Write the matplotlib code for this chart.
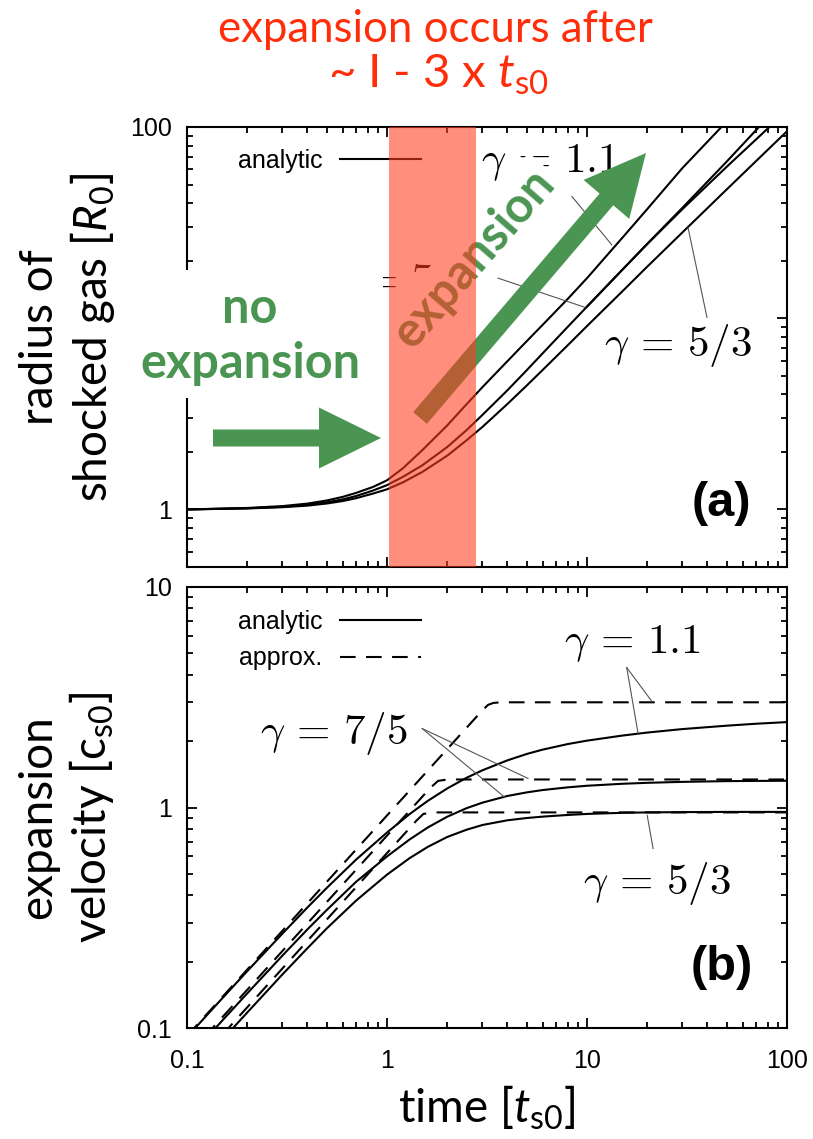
import matplotlib
matplotlib.use('Agg')
import matplotlib.pyplot as plt
from matplotlib.lines import Line2D
from matplotlib.patches import Rectangle, FancyArrow
from matplotlib.transforms import blended_transform_factory
from matplotlib.ticker import FuncFormatter, LogLocator, NullFormatter

plt.rcParams['mathtext.fontset'] = 'custom'
plt.rcParams['mathtext.rm'] = 'Lato'
plt.rcParams['mathtext.it'] = 'Lato:italic'
plt.rcParams['mathtext.bf'] = 'Lato:bold'

# ---------------- data ----------------
# panel (a): radius of shocked gas [R0] vs time [ts0]
t_R = [0.1, 0.2, 0.3, 0.4, 0.5, 0.6, 0.7, 0.85, 1, 1.2, 1.5, 2, 2.5, 3, 4, 5, 6, 8, 10, 15, 20, 30, 50]
R_11 = [1.0, 1.018, 1.041, 1.073, 1.114, 1.163, 1.22, 1.31, 1.42, 1.64, 2.04, 2.75, 3.55, 4.36,
        5.96, 7.59, 9.23, 12.6, 16.2, 26.3, 37.2, 61, 107]
t_R75 = [0.1, 0.2, 0.3, 0.4, 0.5, 0.6, 0.7, 0.85, 1, 1.2, 1.5, 2, 2.5, 3, 4, 5, 6, 8, 10, 15, 20, 30, 50, 75]
R_75 = [1.0, 1.014, 1.032, 1.057, 1.09, 1.128, 1.175, 1.255, 1.34, 1.48, 1.7, 2.12, 2.6, 3.12,
        4.2, 5.35, 6.55, 9.0, 11.5, 17.9, 24.5, 37.8, 66, 104]
t_R75b = [10, 15, 20, 30, 50, 85]
R_75b = [11.5, 17.9, 24.4, 37.2, 62, 104]
t_R53 = [0.1, 0.2, 0.3, 0.4, 0.5, 0.6, 0.7, 0.85, 1, 1.2, 1.5, 2, 2.5, 3, 4, 5, 6, 8, 10, 15, 20, 30, 50, 70, 100]
R_53 = [1.0, 1.012, 1.027, 1.047, 1.074, 1.106, 1.145, 1.21, 1.274, 1.385, 1.57, 1.91, 2.3, 2.7,
        3.56, 4.45, 5.36, 7.21, 9.1, 13.8, 18.6, 28.1, 47.2, 66.3, 95]

# panel (b): expansion velocity [cs0] vs time [ts0]
t_v = [0.1, 0.15, 0.2, 0.3, 0.4, 0.5, 0.7, 1, 1.3, 1.6, 2, 2.5, 3, 4, 5, 6, 8, 10, 15, 20, 30, 50, 70, 100]
v_11 = [0.091, 0.1363, 0.181, 0.268, 0.352, 0.432, 0.58, 0.77, 0.935, 1.072, 1.22, 1.364, 1.475,
        1.636, 1.749, 1.83, 1.939, 2.01, 2.119, 2.187, 2.268, 2.35, 2.398, 2.44]
v_75 = [0.072, 0.108, 0.1435, 0.213, 0.28, 0.343, 0.46, 0.6, 0.717, 0.812, 0.908, 0.993, 1.052,
        1.128, 1.171, 1.2, 1.234, 1.255, 1.281, 1.294, 1.307, 1.317, 1.32, 1.322]
v_53 = [0.059, 0.0884, 0.1175, 0.175, 0.23, 0.283, 0.378, 0.496, 0.59, 0.663, 0.735, 0.793, 0.833,
        0.875, 0.896, 0.909, 0.925, 0.935, 0.946, 0.95, 0.953, 0.955, 0.955, 0.955]

ta_11 = [0.1, 3.0, 3.2, 3.4, 3.7, 100]
va_11 = [0.092, 2.76, 2.92, 2.98, 3.0, 3.0]
ta_75 = [0.1, 1.65, 1.8, 2.0, 100]
va_75 = [0.0745, 1.23, 1.32, 1.34, 1.34]
ta_53 = [0.1, 1.4, 1.52, 1.7, 100]
va_53 = [0.062, 0.87, 0.935, 0.95, 0.95]

x_ticks = [0.1, 1, 10, 100]
ya_ticks = [1, 10, 100]
yb_ticks = [0.1, 1, 10]

# ---------------- figure ----------------
W, H = 813, 1139
fig = plt.figure(figsize=(W / 100, H / 100), dpi=100)

def frac(l, t, r, b):
    return [l / W, 1 - b / H, (r - l) / W, (b - t) / H]

axA = fig.add_axes(frac(187, 127, 787, 567))
axB = fig.add_axes(frac(187, 587, 787, 1028))

TICKFONT = 'Liberation Sans'
LW = 1.5
fmt = FuncFormatter(lambda v, p: f'{v:g}')
for ax in (axA, axB):
    ax.set_xscale('log')
    ax.set_yscale('log')
    ax.set_xlim(0.1, 100)
    for s in ax.spines.values():
        s.set_linewidth(1.5)
    ax.tick_params(which='both', direction='in', top=True, right=True, width=1.3)
    ax.tick_params(which='major', length=7.5, labelsize=18, pad=11)
    ax.tick_params(which='minor', length=4.5)
    ax.set_xticks(x_ticks)
    ax.xaxis.set_minor_locator(LogLocator(base=10, subs=range(2, 10), numticks=20))
    ax.yaxis.set_minor_locator(LogLocator(base=10, subs=range(2, 10), numticks=20))
    ax.yaxis.set_minor_formatter(NullFormatter())
    ax.xaxis.set_minor_formatter(NullFormatter())

# panel (a)
axA.set_ylim(0.5, 100)
axA.set_yticks(ya_ticks)
axA.yaxis.set_major_formatter(fmt)
axA.tick_params(labelbottom=False)
axA.plot(t_R, R_11, color='black', lw=LW)
axA.plot(t_R75, R_75, color='black', lw=LW)
axA.plot(t_R75b, R_75b, color='black', lw=LW)
axA.plot(t_R53, R_53, color='black', lw=LW)

# panel (b)
axB.set_ylim(0.1, 10)
axB.set_yticks(yb_ticks)
axB.yaxis.set_major_formatter(fmt)
axB.xaxis.set_major_formatter(fmt)
axB.tick_params(axis='x', pad=15)
for vv in (v_11, v_75, v_53):
    axB.plot(t_v, vv, color='black', lw=LW)
for tt, vv in ((ta_11, va_11), (ta_75, va_75), (ta_53, va_53)):
    axB.plot(tt, vv, color='black', lw=LW, dashes=(7.5, 5))

for ax in (axA, axB):
    for lab in ax.get_xticklabels() + ax.get_yticklabels():
        lab.set_fontfamily(TICKFONT)

# legends (gnuplot style: text first, sample line after)
hA = [Line2D([], [], color='black', lw=LW)]
axA.legend(hA, ['analytic'], loc='upper left', bbox_to_anchor=(0.085, 0.95),
           frameon=False, markerfirst=False, handlelength=3.25, handletextpad=0.7,
           borderpad=0, borderaxespad=0, prop={'family': TICKFONT, 'size': 18})
hB = [Line2D([], [], color='black', lw=LW), Line2D([], [], color='black', lw=LW, dashes=(7.5, 5))]
axB.legend(hB, ['analytic', 'approx.'], loc='upper left', bbox_to_anchor=(0.085, 0.948),
           frameon=False, markerfirst=False, handlelength=3.25, handletextpad=0.7,
           labelspacing=0.5, borderpad=0, borderaxespad=0, prop={'family': TICKFONT, 'size': 18})

# gamma labels and leader lines
GS = 31
lead = dict(color='#555555', lw=0.8)
gkw = dict(fontsize=GS, math_fontfamily='cm', ha='center', va='center')
axA.text(6.53, 65.5, r'$\gamma\,=\,1.1$', **gkw)
axA.text(1.19, 15.3, r'$\gamma\,=\,7/5$', **gkw)
axA.text(28.5, 7.21, r'$\gamma\,=\,5/3$', **gkw)
axA.plot([8.41, 13.3], [43.3, 24.2], **lead)
axA.plot([3.59, 9.77], [16.2, 11.4], **lead)
axA.plot([32.0, 39.8], [29.8, 10.1], **lead)

axB.text(16.8, 5.6, r'$\gamma\,=\,1.1$', **gkw)
axB.text(0.543, 2.17, r'$\gamma\,=\,7/5$', **gkw)
axB.text(22.4, 0.452, r'$\gamma\,=\,5/3$', **gkw)
axB.plot([15.8, 21.1], [4.31, 3.03], **lead)
axB.plot([15.8, 18.0], [4.31, 2.17], **lead)
axB.plot([1.50, 5.07], [2.28, 1.355], **lead)
axB.plot([1.50, 3.89], [2.28, 1.11], **lead)
axB.plot([21.4, 20.0], [0.652, 0.92], **lead)

panel_font = ['Liberation Sans Narrow', 'Liberation Sans']
axA.text(0.89, 0.145, '(a)', transform=axA.transAxes, fontsize=35, fontweight='bold',
         family=panel_font, ha='center', va='center')
axB.text(0.892, 0.138, '(b)', transform=axB.transAxes, fontsize=35, fontweight='bold',
         family=panel_font, ha='center', va='center')

# axis labels (Gill-Sans-like)
BIG = 33
LF = 'Lato'
fig.text(68 / W, 1 - 337 / H, 'radius of\nshocked gas [$R_0$]', rotation=90, ha='center',
         va='center', multialignment='center', fontsize=BIG, family=LF)
fig.text(67 / W, 1 - 817 / H, 'expansion\nvelocity [$\\mathrm{c}_{\\mathrm{s0}}$]', rotation=90,
         ha='center', va='center', multialignment='center', fontsize=BIG, family=LF)
fig.text(487 / W, 1 - 1108 / H, 'time [$t_{\\mathrm{s0}}$]', ha='center', va='center',
         fontsize=BIG, family=LF)

RED = '#FF2D0A'
fig.text(435 / W, 1 - 30 / H, 'expansion occurs after', ha='center', va='center',
         fontsize=31.5, family=LF, color=RED)
fig.text(438 / W, 1 - 75 / H, '~ I - 3 x $t_{\\mathrm{s0}}$', ha='center', va='center',
         fontsize=34, family=LF, color=RED)

# ---------------- overlay (pixel coordinates) ----------------
ov = fig.add_axes([0, 0, 1, 1], zorder=10)
ov.set_xlim(0, W)
ov.set_ylim(H, 0)
ov.axis('off')
ov.patch.set_alpha(0)

GREEN = '#4B9553'
GB = 35
ov.add_patch(Rectangle((130, 270), 253, 128, facecolor='white', edgecolor='none', zorder=1))
ov.text(250, 323, 'no', ha='center', va='baseline', fontsize=GB, fontweight='bold',
        family=LF, color=GREEN, zorder=2)
ov.text(250, 378, 'expansion', ha='center', va='baseline', fontsize=GB, fontweight='bold',
        family=LF, color=GREEN, zorder=2)
ov.text(474, 258, 'expansion', rotation=49, rotation_mode='anchor', ha='center', va='center',
        fontsize=GB, fontweight='bold', family=LF, color=GREEN, zorder=2,
        bbox=dict(facecolor='white', edgecolor='none', pad=4))

ov.add_patch(FancyArrow(213, 438, 168, 0, width=17, head_width=61, head_length=62,
                        length_includes_head=True, color=GREEN, lw=0, zorder=3))
ov.add_patch(FancyArrow(420, 418, 226, -265, width=18, head_width=60, head_length=61,
                        length_includes_head=True, color=GREEN, lw=0, zorder=3))

# red band (in panel (a) data coordinates along x)
trans = blended_transform_factory(axA.transData, axA.transAxes)
ov.add_patch(Rectangle((1.02, 0), 2.78 - 1.02, 1, transform=trans, facecolor='#FF3C1E',
                       alpha=0.58, edgecolor='none', zorder=5))

fig.savefig('out.png', dpi=100)
